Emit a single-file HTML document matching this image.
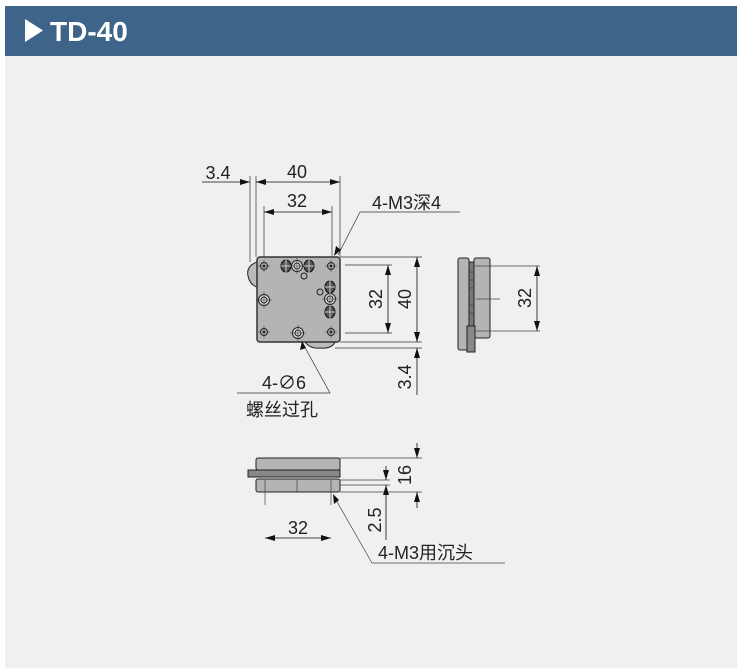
<!DOCTYPE html>
<html><head><meta charset="utf-8"><style>
body{margin:0;background:#fff;width:740px;height:668px;overflow:hidden}
svg{display:block}
text{font-family:"Liberation Sans","Noto Sans CJK SC",sans-serif;fill:#222}
</style></head><body>
<svg width="740" height="668" viewBox="0 0 740 668" xmlns="http://www.w3.org/2000/svg">
<defs>
<marker id="a" viewBox="0 0 10 6" refX="10" refY="3" markerWidth="10" markerHeight="6" orient="auto-start-reverse" markerUnits="userSpaceOnUse"><path d="M0,0L10,3L0,6z" fill="#111"/></marker>
<g id="h"><circle r="3.5" fill="none" stroke="#222" stroke-width="1"/><circle r="1.3" fill="#222"/><path d="M-6,0H6M0,-6V6" stroke="#333" stroke-width="0.6"/></g>
<g id="H"><circle r="5.5" fill="#ddd" stroke="#222" stroke-width="1"/><circle r="3" fill="none" stroke="#222" stroke-width="1"/><path d="M-8,0H8M0,-8V8" stroke="#333" stroke-width="0.6"/></g>
<g id="k"><ellipse rx="5" ry="6" fill="#555" stroke="#111"/><path d="M-5,0H5M0,-7V7" stroke="#ccc" stroke-width="1"/></g>
</defs>
<rect x="5" y="56" width="732" height="612" fill="#eff0f0"/>
<rect x="5" y="6" width="732" height="50" fill="#3e6489"/>
<path d="M25,19L25,42L43,30.5z" fill="#fff"/>
<text x="50" y="41" font-size="28" font-weight="bold" style="fill:#fff">TD-40</text>

<g stroke="#222" fill="none" stroke-width="1">
<path d="M257,262 Q246,266 248,276 Q250,285 257,287" fill="#bbb"/>
<path d="M305,342 Q310,349 320,348 Q332,349 335,342" fill="#bbb"/>
<rect x="257" y="257" width="83" height="85" rx="3" fill="#b4b4b4" stroke="#333" stroke-width="1.5"/>
</g>
<use href="#h" x="264" y="266"/><use href="#h" x="331" y="266"/><use href="#h" x="264" y="332"/><use href="#h" x="331" y="332"/>
<use href="#H" x="264" y="300"/><use href="#H" x="298" y="333"/><use href="#H" x="297" y="266"/><use href="#H" x="330" y="299"/>
<use href="#k" x="286" y="266"/><use href="#k" x="309" y="266"/><use href="#k" x="330" y="287"/><use href="#k" x="330" y="312"/>
<circle cx="304" cy="276" r="3" fill="none" stroke="#222"/><circle cx="320" cy="292" r="3" fill="none" stroke="#222"/>

<g stroke="#333" stroke-width="0.7" fill="none">
<path d="M250,176V262M256,176V257M264,206V257M332,206V257M340,176V257"/>
<path d="M340,257H422M340,342H422M345,265H392M345,333H392M335,348H422"/>
<path d="M360,212H460M360,212L338,255" /><path d="M237,393H330L302,342"/>
</g>
<g stroke="#111" stroke-width="0.8">
<line x1="202" y1="182" x2="250" y2="182" marker-end="url(#a)"/>
<line x1="256" y1="182" x2="340" y2="182" marker-start="url(#a)" marker-end="url(#a)"/>
<line x1="264" y1="212" x2="332" y2="212" marker-start="url(#a)" marker-end="url(#a)"/>
<line x1="388" y1="265" x2="388" y2="333" marker-start="url(#a)" marker-end="url(#a)"/>
<line x1="417" y1="257" x2="417" y2="342" marker-start="url(#a)" marker-end="url(#a)"/>
<line x1="417" y1="395" x2="417" y2="348" marker-end="url(#a)"/>
</g>
<path d="M334,256L341,250L336,246z" fill="#111"/>
<path d="M302,341L300,350L306,348z" fill="#111"/>
<text x="218" y="179" font-size="18" text-anchor="middle">3.4</text>
<text x="297" y="178" font-size="18" text-anchor="middle">40</text>
<text x="297" y="207" font-size="18" text-anchor="middle">32</text>
<text x="372" y="209" font-size="18">4-M3深4</text>
<text x="262" y="389" font-size="18">4-∅6</text>
<text x="246" y="416" font-size="18">螺丝过孔</text>
<text transform="translate(382,299) rotate(-90)" font-size="18" text-anchor="middle">32</text>
<text transform="translate(411,299) rotate(-90)" font-size="18" text-anchor="middle">40</text>
<text transform="translate(411,377) rotate(-90)" font-size="18" text-anchor="middle">3.4</text>

<g stroke="#222" fill="#b4b4b4">
<rect x="458" y="258" width="11" height="92" rx="2"/>
<rect x="469" y="262" width="5" height="84" fill="#777"/>
<rect x="474" y="258" width="16" height="80" rx="2"/>
<rect x="467" y="326" width="8" height="26" fill="#888"/>
</g>
<g stroke="#444" stroke-width="0.7">
<path d="M475,266H540M476,299H500M475,331H540"/>
<path d="M470,272H474M470,280H474M470,288H474M470,305H474M470,313H474"/>
</g>
<line x1="537" y1="266" x2="537" y2="331" stroke="#111" stroke-width="0.8" marker-start="url(#a)" marker-end="url(#a)"/>
<text transform="translate(531,298) rotate(-90)" font-size="18" text-anchor="middle">32</text>

<g stroke="#222" fill="#b4b4b4">
<rect x="256" y="458" width="84" height="12" rx="2"/>
<rect x="248" y="470" width="92" height="7" fill="#888"/>
<rect x="256" y="479" width="84" height="13" rx="2"/>
</g>
<g stroke="#444" stroke-width="0.7" fill="none">
<path d="M265,480V505M331,480V505M297,480V492"/>
<path d="M340,458H422M340,492H422M340,480H390M340,485H390"/>
<path d="M372,563H505M372,563L336,500"/>
</g>
<path d="M333,494L334,504L339,500z" fill="#111"/>
<g stroke="#111" stroke-width="0.8">
<line x1="417" y1="443" x2="417" y2="458" marker-end="url(#a)"/>
<line x1="417" y1="508" x2="417" y2="492" marker-end="url(#a)"/>
<line x1="386" y1="466" x2="386" y2="480" marker-end="url(#a)"/>
<line x1="386" y1="540" x2="386" y2="485" marker-end="url(#a)"/>
<line x1="265" y1="538" x2="331" y2="538" marker-start="url(#a)" marker-end="url(#a)"/>
</g>
<text transform="translate(411,475) rotate(-90)" font-size="18" text-anchor="middle">16</text>
<text transform="translate(381,520) rotate(-90)" font-size="18" text-anchor="middle">2.5</text>
<text x="298" y="534" font-size="18" text-anchor="middle">32</text>
<text x="378" y="559" font-size="18">4-M3用沉头</text>
</svg>
</body></html>
